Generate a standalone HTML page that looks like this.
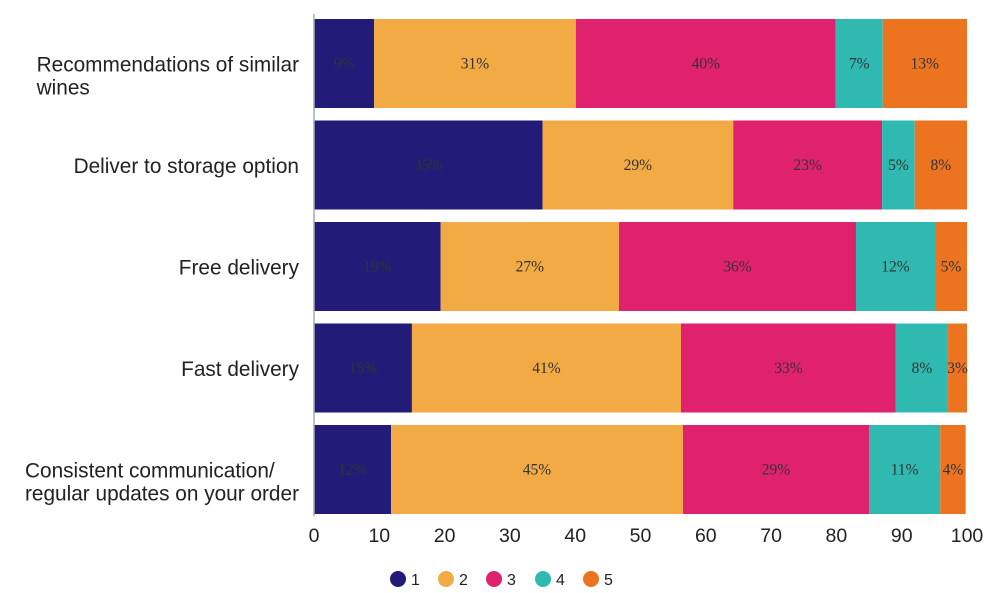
<!DOCTYPE html>
<html><head><meta charset="utf-8"><style>
body{margin:0;background:#fff;}
svg{display:block;}
</style></head><body>
<svg id="chart" width="1000" height="593"></svg>
<script>
const categories=["Recommendations of similar|wines","Deliver to storage option","Free delivery","Fast delivery","Consistent communication/|regular updates on your order"];
const s1=[9.2,35,19.4,15,11.8];
const s2=[30.9,29.2,27.3,41.2,44.7];
const s3=[39.8,22.8,36.3,32.9,28.5];
const s4=[7.2,5,12.1,8,10.9];
const s5=[12.9,8,4.9,2.9,3.9];
const seriesNames=["1","2","3","4","5"];
const colors=["#221c78","#f2aa45","#e0226e","#2fb9b1","#ec7420"];
const ticks=[0,10,20,30,40,50,60,70,80,90,100];
const series=[s1,s2,s3,s4,s5];
const NS="http://www.w3.org/2000/svg";
const svg=document.getElementById('chart');
const x0=314,x1=967,top0=19,rowH=101.5,barH=89;
const xs=v=>x0+(x1-x0)*v/100;
function mk(t,a,p){const e=document.createElementNS(NS,t);for(const k in a)e.setAttribute(k,a[k]);(p||svg).appendChild(e);return e;}
categories.forEach((c,i)=>{
  const y=top0+i*rowH;
  let acc=0;
  series.forEach((s,j)=>{
    const v=s[i];
    const r=mk('rect',{x:xs(acc),y:y,width:xs(acc+v)-xs(acc),height:barH,fill:colors[j]});
    
    
    const t=mk('text',{x:(xs(acc)+xs(acc+v))/2,y:y+barH/2+5,'text-anchor':'middle','font-family':'Liberation Serif, serif','font-size':15.5,fill:'#333'});
    t.textContent=Math.round(v)+'%';
    
    
    acc+=v;
  });
  const lines=c.split('|');
  const t=mk('text',{'font-family':'Liberation Sans, sans-serif','font-size':20.8,fill:'#222'});
  
  
  const spans=lines.map((l,k)=>{const ts=mk('tspan',{x:0,y:y+barH/2+8+k*23},t);ts.textContent=l;return ts;});
  let w=0;spans.forEach(s=>{w=Math.max(w,s.getComputedTextLength());});
  spans.forEach(s=>s.setAttribute('x',299-w));
});
const ax=mk('line',{x1:x0,x2:x0,y1:14,y2:516,stroke:'#aaa','stroke-width':1.5});

ticks.forEach(v=>{
  const t=mk('text',{x:xs(v),y:542,'text-anchor':'middle','font-family':'Liberation Sans, sans-serif','font-size':19.5,fill:'#222'});
  t.textContent=v;
  
  
});
const lx=[398,446,494,543,591];
seriesNames.forEach((n,j)=>{
  const g=mk('g',{});
  
  
  mk('circle',{cx:lx[j],cy:579,r:8,fill:colors[j]},g);
  const t=mk('text',{x:lx[j]+13,y:585,'font-family':'Liberation Sans, sans-serif','font-size':16,fill:'#222'},g);
  t.textContent=n;
});
</script>
</body></html>
